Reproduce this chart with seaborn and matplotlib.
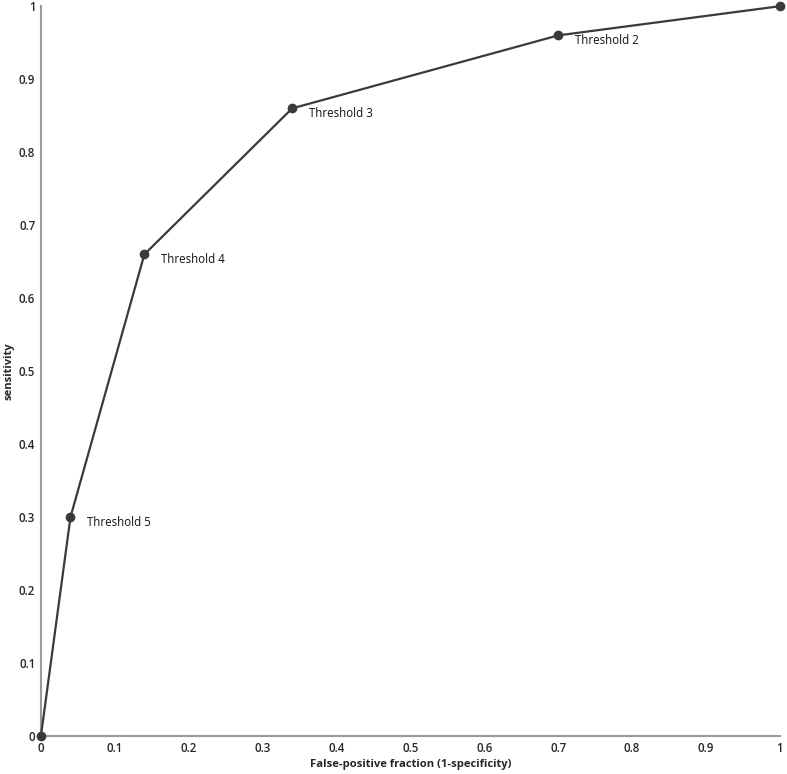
import matplotlib
matplotlib.use("Agg")
import matplotlib.pyplot as plt
import seaborn as sns
import pandas as pd

fpr = [0.0, 0.04, 0.14, 0.34, 0.70, 1.0]
sens = [0.0, 0.30, 0.66, 0.86, 0.96, 1.0]
labels = ["", "Threshold 5", "Threshold 4", "Threshold 3", "Threshold 2", ""]
ticks = [0, 0.1, 0.2, 0.3, 0.4, 0.5, 0.6, 0.7, 0.8, 0.9, 1]
tick_labels = ["0", "0.1", "0.2", "0.3", "0.4", "0.5", "0.6", "0.7", "0.8", "0.9", "1"]

sns.set_theme(style="white")
plt.rcParams['font.family'] = ['Open Sans', 'DejaVu Sans']

df = pd.DataFrame({"fpr": fpr, "sens": sens})

fig = plt.figure(figsize=(7.87, 7.74), dpi=100)
ax = fig.add_axes([0.052, 0.049, 0.939, 0.943])
sns.lineplot(data=df, x="fpr", y="sens", ax=ax, color="#3a3a3a", linewidth=1.6,
             marker="o", markersize=7, markeredgewidth=0, sort=False, clip_on=False,
             zorder=5)

for x, y, t in zip(fpr, sens, labels):
    if t:
        ax.annotate(t, (x, y), xytext=(12, -4), textcoords="offset points",
                    fontsize=8.3, color="#111111", va="center", ha="left")

ax.set_xlim(0, 1)
ax.set_ylim(0, 1)
ax.set_xticks(ticks)
ax.set_xticklabels(tick_labels)
ax.set_yticks(ticks)
ax.set_yticklabels(tick_labels)
ax.tick_params(length=0, labelsize=8.3, pad=4)
for lab in ax.get_xticklabels() + ax.get_yticklabels():
    lab.set_fontweight("semibold")
ax.set_xlabel("False-positive fraction (1-specificity)", fontsize=8.1, fontweight="bold", labelpad=3)
ax.set_ylabel("sensitivity", fontsize=8.1, fontweight="bold", labelpad=3)
for s in ["top", "right"]:
    ax.spines[s].set_visible(False)
for s in ["left", "bottom"]:
    ax.spines[s].set_color("#9a9a9a")
    ax.spines[s].set_linewidth(1.5)
    ax.spines[s].set_zorder(1)

fig.savefig("out.png", dpi=100)
